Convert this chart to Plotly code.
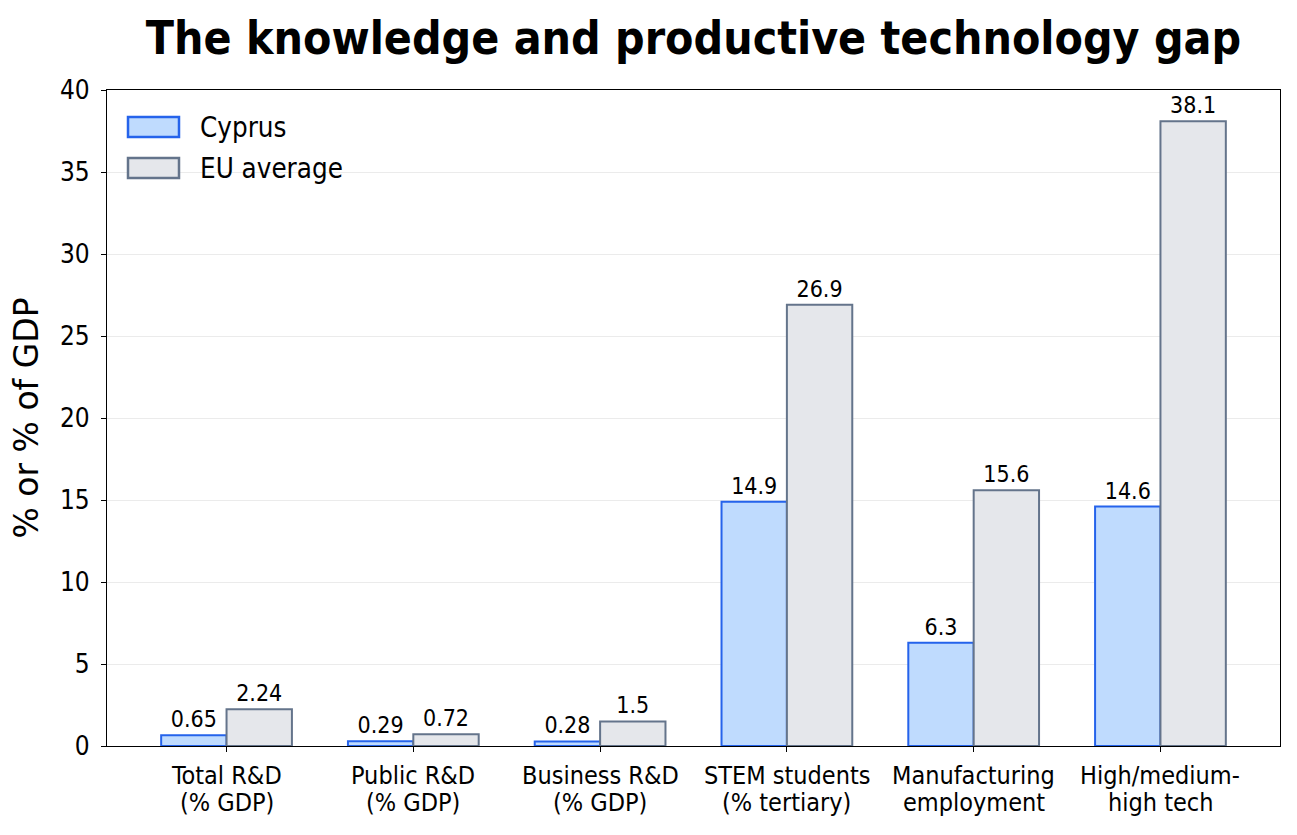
import plotly.graph_objects as go

categories = ["Total R&D<br>(% GDP)", "Public R&D<br>(% GDP)", "Business R&D<br>(% GDP)",
              "STEM students<br>(% tertiary)", "Manufacturing<br>employment", "High/medium-<br>high tech"]
cyprus = [0.65, 0.29, 0.28, 14.9, 6.3, 14.6]
eu_avg = [2.24, 0.72, 1.5, 26.9, 15.6, 38.1]
cyprus_labels = ["0.65", "0.29", "0.28", "14.9", "6.3", "14.6"]
eu_labels = ["2.24", "0.72", "1.5", "26.9", "15.6", "38.1"]
series_names = ["Cyprus", "EU average"]
y_ticks = [0, 5, 10, 15, 20, 25, 30, 35, 40]

COND = "DejaVu Sans Condensed, DejaVu Sans, sans-serif"
c_fill, c_line = "#bfdbfe", "#2563eb"
e_fill, e_line = "#e5e7eb", "#64748b"

W, H = 1297, 835
L, R, T, B = 107, 17, 90, 89
PW, PH = W - L - R, H - T - B


def py(pix):
    return 1 - (pix - T) / PH


def px(pix):
    return (pix - L) / PW


fig = go.Figure()
fig.add_trace(go.Bar(x=categories, y=cyprus, name=series_names[0], text=cyprus_labels,
                     textposition="outside", textfont=dict(family=COND, size=23, color="black"),
                     marker=dict(color=c_fill, line=dict(color=c_line, width=2)),
                     cliponaxis=False, showlegend=False))
fig.add_trace(go.Bar(x=categories, y=eu_avg, name=series_names[1], text=eu_labels,
                     textposition="outside", textfont=dict(family=COND, size=23, color="black"),
                     marker=dict(color=e_fill, line=dict(color=e_line, width=2)),
                     cliponaxis=False, showlegend=False))

fig.update_layout(
    width=W, height=H,
    margin=dict(l=L, r=R, t=T, b=B),
    paper_bgcolor="white", plot_bgcolor="white",
    barmode="group", bargap=0.3, bargroupgap=0,
    title=dict(text="<b>The knowledge and productive technology gap</b>",
               x=(L + W - R) / 2 / W, xanchor="center", y=1 - 38 / H, yanchor="middle",
               font=dict(family=COND, size=46, color="black")),
    font=dict(family=COND, color="black"),
)
fig.update_xaxes(range=[-0.64, 5.64], showline=True, mirror=True, linecolor="black", linewidth=1.3,
                 ticks="outside", ticklen=5, tickcolor="black", showgrid=False,
                 showticklabels=False)
fig.update_yaxes(range=[0, 40], tickvals=y_ticks, showline=True, mirror=True, linecolor="black",
                 linewidth=1.3, ticks="outside", ticklen=5, tickcolor="black",
                 showgrid=True, gridcolor="#ebebeb", gridwidth=1, zeroline=False,
                 ticklabelstandoff=6,
                 tickfont=dict(family=COND, size=26, color="black"),
                 title=dict(text="% or % of GDP", font=dict(family="DejaVu Sans", size=33, color="black"),
                            standoff=11))

# x tick labels (two lines each, matplotlib-like line spacing)
for cat in categories:
    lines = cat.split("<br>")
    for j, line in enumerate(lines):
        fig.add_annotation(xref="x", yref="paper", x=cat, y=py(775 + 27 * j), text=line,
                           showarrow=False, xanchor="center", yanchor="middle",
                           font=dict(family=COND, size=25, color="black"))

# custom legend (matplotlib-style swatches)
legend_items = [(series_names[0], c_fill, c_line), (series_names[1], e_fill, e_line)]
for i, (name, fill, line) in enumerate(legend_items):
    yc = 127 + i * 41
    fig.add_shape(type="rect", xref="paper", yref="paper",
                  x0=px(128), x1=px(179), y0=py(yc - 10), y1=py(yc + 10),
                  fillcolor=fill, line=dict(color=line, width=2.5), layer="above")
    fig.add_annotation(xref="paper", yref="paper", x=px(198), y=py(yc), text=name,
                       showarrow=False, xanchor="left", yanchor="middle",
                       font=dict(family=COND, size=27.5, color="black"))

fig.write_html("out.html")
